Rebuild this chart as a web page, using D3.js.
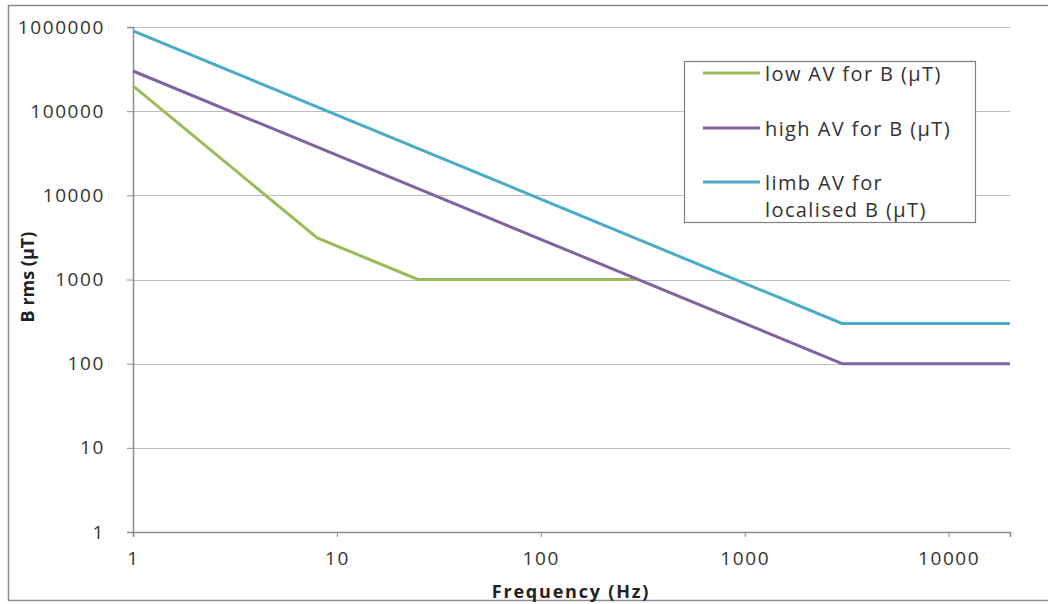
<!DOCTYPE html>
<html>
<head>
<meta charset="utf-8">
<script src="https://cdn.jsdelivr.net/npm/d3@7"></script>
<style>
  body { margin: 0; background: #fff; }
  svg text { font-family: "Open Sans", "Liberation Sans", sans-serif; }
</style>
</head>
<body>
<div id="chart"></div>
<script>
// data (frequency in Hz, B in µT)
const lowFreq = [1, 8, 25, 300];
const lowB = [200000, 3125, 1000, 1000];
const highFreq = [1, 3000, 20000];
const highB = [300000, 100, 100];
const limbFreq = [1, 3000, 20000];
const limbB = [900000, 300, 300];

const seriesNames = ["low AV for B (\u00b5T)", "high AV for B (\u00b5T)", "limb AV for|localised B (\u00b5T)"];
const seriesColors = ["#9bbb59", "#8064a2", "#4bacc6"];
const xTicks = [1, 10, 100, 1000, 10000];
const yTicks = [1, 10, 100, 1000, 10000, 100000, 1000000];

const width = 1048, height = 604;
const margin = { top: 27, right: 38, bottom: 72, left: 133 };

const svg = d3.select("#chart").append("svg")
  .attr("width", width)
  .attr("height", height);

// outer frame
svg.append("rect")
  .attr("x", 8.5).attr("y", 5.5)
  .attr("width", 1045).attr("height", 595)
  .attr("fill", "none").attr("stroke", "#8c8c8c").attr("stroke-width", 1.5);

const x = d3.scaleLog().domain([1, 20000]).range([margin.left, width - margin.right]);
const y = d3.scaleLog().domain([1, 1000000]).range([height - margin.bottom, margin.top]);

// grid
svg.append("g").selectAll("line")
  .data(yTicks.slice(1))
  .join("line")
  .attr("x1", margin.left).attr("x2", width - margin.right)
  .attr("y1", d => Math.round(y(d)) + 0.5).attr("y2", d => Math.round(y(d)) + 0.5)
  .attr("stroke", "#bdbdbd").attr("stroke-width", 1);

// axes
const yAxis = svg.append("g")
  .attr("transform", "translate(" + margin.left + ",0)")
  .call(d3.axisLeft(y).tickValues(yTicks).tickFormat(d3.format("d")).tickSize(6).tickPadding(22));
const xAxis = svg.append("g")
  .attr("transform", "translate(0," + (height - margin.bottom) + ")")
  .call(d3.axisBottom(x).tickValues(xTicks).tickFormat(d3.format("d")).tickSize(5).tickPadding(15));

[xAxis, yAxis].forEach(a => {
  a.select(".domain").attr("stroke", "#8c8c8c").attr("stroke-width", 1.5);
  a.selectAll(".tick line").attr("stroke", "#8c8c8c");
  a.selectAll("text").attr("font-size", 19).attr("fill", "#333")
    .attr("letter-spacing", 1.6)
    .attr("font-family", "'Open Sans', 'Liberation Sans', sans-serif");
});

// axis titles
svg.append("text")
  .attr("x", 571).attr("y", 598)
  .attr("text-anchor", "middle")
  .attr("font-size", 18).attr("font-weight", "bold").attr("fill", "#222")
  .attr("letter-spacing", 1.8)
  .text("Frequency (Hz)");
svg.append("text")
  .attr("transform", "translate(34,277) rotate(-90)")
  .attr("text-anchor", "middle")
  .attr("font-size", 18).attr("font-weight", "bold").attr("fill", "#222")
  .text("B rms (\u00b5T)");

// lines
const line = d3.line().x(d => x(d[0])).y(d => y(d[1]));
const allSeries = [
  d3.zip(lowFreq, lowB),
  d3.zip(highFreq, highB),
  d3.zip(limbFreq, limbB)
];
allSeries.forEach((s, i) => {
  svg.append("path")
    .datum(s)
    .attr("d", line)
    .attr("fill", "none")
    .attr("stroke", seriesColors[i])
    .attr("stroke-width", 3)
    .attr("stroke-linejoin", "round");
});

// legend
const legend = svg.append("g");
legend.append("rect")
  .attr("x", 684.5).attr("y", 61.5)
  .attr("width", 291).attr("height", 161)
  .attr("fill", "#fff").attr("stroke", "#7f7f7f").attr("stroke-width", 1.2);
const legendY = [73, 128, 182];
seriesNames.forEach((name, i) => {
  legend.append("line")
    .attr("x1", 703).attr("x2", 760)
    .attr("y1", legendY[i]).attr("y2", legendY[i])
    .attr("stroke", seriesColors[i]).attr("stroke-width", 3);
  name.split("|").forEach((part, j) => {
    legend.append("text")
      .attr("x", 765).attr("y", legendY[i] + 8 + j * 27)
      .attr("font-size", 20).attr("fill", "#333")
      .attr("letter-spacing", 1.4)
      .text(part);
  });
});
</script>
</body>
</html>
